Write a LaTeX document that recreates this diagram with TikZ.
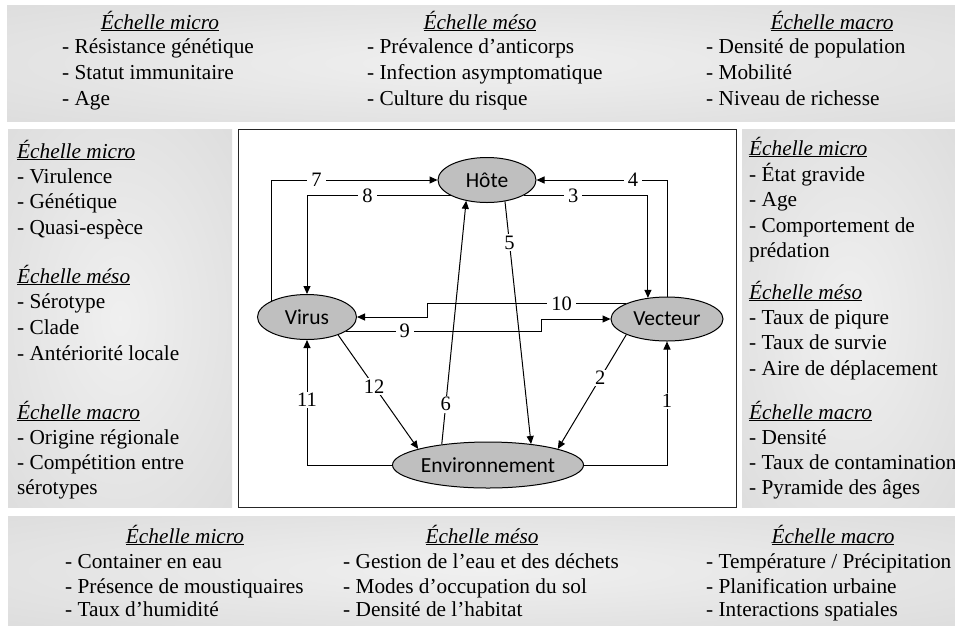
\documentclass[tikz,border=0pt]{standalone}
\usepackage{fontspec}
\setmainfont{Liberation Serif}
\newfontfamily\calib{Carlito}
\usetikzlibrary{shapes.geometric,arrows.meta,calc}
\pgfdeclareradialshading{panelshade}{\pgfpoint{0bp}{0bp}}{color(0bp)=(black!6); color(50bp)=(black!16); color(72bp)=(black!19)}
\newcommand{\txtline}[4]{\node[txt] (#1) at (#2,#3) {#4};}
\newcommand{\headw}[4]{\node[txt] (#1) at (#2,#3) {\underline{\textit{#4}}};}
\newcommand{\headc}[4]{\node[txt,anchor=base] (#1) at (#2,#3) {\underline{\textit{#4}}};}
\begin{document}
\begin{tikzpicture}[x=1pt,y=-1pt,
  txt/.style={font=\fontsize{21.3}{25}\selectfont, inner sep=0pt, anchor=base west},
  ell/.style={ellipse, draw, fill=black!25, line width=1pt, inner sep=0pt, font=\calib\fontsize{21.5}{25}\selectfont},
  lbl/.style={fill=white, inner xsep=4pt, inner ysep=1.5pt, font=\fontsize{20.5}{24}\selectfont},
  arr/.style={line width=1pt, -{Triangle[length=8pt,width=7pt]}},
  panel/.style={shading=panelshade}]
\useasboundingbox (0,0) rectangle (955,625);
\fill[white] (0,0) rectangle (955,625);
% panels
\shade[panel] (7,5) rectangle (955,121);
\shade[panel] (8,129) rectangle (232,507);
\shade[panel] (742,129) rectangle (955,507);
\shade[panel] (8,516) rectangle (955,625);
\draw[black!85, line width=1pt, fill=white] (238,129) rectangle (736,507);
% top panel
\headc{t1h}{160}{29}{Échelle micro}
\txtline{t1a}{62}{53}{- Résistance génétique}
\txtline{t1b}{62}{79}{- Statut immunitaire}
\txtline{t1c}{62}{105}{- Age}
\headc{t2h}{480}{29}{Échelle méso}
\txtline{t2a}{367}{53}{- Prévalence d’anticorps}
\txtline{t2b}{367}{79}{- Infection asymptomatique}
\txtline{t2c}{367}{105}{- Culture du risque}
\headc{t3h}{832}{29}{Échelle macro}
\txtline{t3a}{706}{53}{- Densité de population}
\txtline{t3b}{706}{79}{- Mobilité}
\txtline{t3c}{706}{105}{- Niveau de richesse}
% left panel
\headw{l1h}{17}{158}{Échelle micro}
\txtline{l1a}{17}{183}{- Virulence}
\txtline{l1b}{17}{208}{- Génétique}
\txtline{l1c}{17}{234}{- Quasi-espèce}
\headw{l2h}{17}{283}{Échelle méso}
\txtline{l2a}{17}{308}{- Sérotype}
\txtline{l2b}{17}{334}{- Clade}
\txtline{l2c}{17}{360}{- Antériorité locale}
\headw{l3h}{17}{419}{Échelle macro}
\txtline{l3a}{17}{444}{- Origine régionale}
\txtline{l3b}{17}{469}{- Compétition entre}
\txtline{l3c}{17}{494}{sérotypes}
% right panel
\headw{r1h}{749}{155}{Échelle micro}
\txtline{r1a}{749}{181}{- État gravide}
\txtline{r1b}{749}{206}{- Age}
\txtline{r1c}{749}{232}{- Comportement de}
\txtline{r1d}{749}{257}{prédation}
\headw{r2h}{749}{299}{Échelle méso}
\txtline{r2a}{749}{324}{- Taux de piqure}
\txtline{r2b}{749}{349}{- Taux de survie}
\txtline{r2c}{749}{375}{- Aire de déplacement}
\headw{r3h}{749}{419}{Échelle macro}
\txtline{r3a}{749}{444}{- Densité}
\txtline{r3b}{749}{469}{- Taux de contamination}
\txtline{r3c}{749}{494}{- Pyramide des âges}
% bottom panel
\headc{b1h}{185}{543}{Échelle micro}
\txtline{b1a}{65}{568}{- Container en eau}
\txtline{b1b}{65}{593}{- Présence de moustiquaires}
\txtline{b1c}{65}{616}{- Taux d’humidité}
\headc{b2h}{482}{543}{Échelle méso}
\txtline{b2a}{343}{568}{- Gestion de l’eau et des déchets}
\txtline{b2b}{343}{593}{- Modes d’occupation du sol}
\txtline{b2c}{343}{616}{- Densité de l’habitat}
\headc{b3h}{833}{543}{Échelle macro}
\txtline{b3a}{706}{568}{- Température / Précipitation}
\txtline{b3b}{706}{593}{- Planification urbaine}
\txtline{b3c}{706}{616}{- Interactions spatiales}
% diagram nodes
\node[ell, minimum width=98pt, minimum height=45pt] (hote) at (487,180) {Hôte};
\node[ell, minimum width=99pt, minimum height=45pt] (virus) at (307,317) {Virus};
\node[ell, minimum width=112pt, minimum height=44pt] (vecteur) at (667,319) {Vecteur};
\node[ell, minimum width=191pt, minimum height=46pt] (env) at (488,465) {Environnement};
\coordinate (k10) at (427,310);
\coordinate (k9) at (541,325);
% connectors
\draw[arr] (virus.155.8) |- node[lbl,pos=0.635] (n7) {7} (hote.west);
\draw[arr] (hote.204) -| node[lbl,pos=0.29] (n8) {8} (virus.north);
\draw[arr] (hote.337) -| node[lbl,pos=0.2] (n3) {3} (vecteur.132.5);
\draw[arr] (vecteur.north) |- node[lbl,pos=0.63] (n4) {4} (hote.east);
\draw[arr] (hote.310.7) -- node[lbl,pos=0.17] (n5) {5} (env.26.2);
\draw[arr] (env.156.9) -- node[lbl,pos=0.165] (n6) {6} (hote.225.7);
\draw[arr] (vecteur.159) -- node[lbl,pos=0.325] (n10) {10} (vecteur.159 -| k10) |- (virus.east);
\draw[arr] (virus.340) -- node[lbl,pos=0.3] (n9) {9} (virus.340 -| k9) |- (vecteur.west);
\draw[arr] (virus.330) -- node[lbl,pos=0.45] (n12) {12} (env.167.4);
\draw[arr] (vecteur.201) -- node[lbl,pos=0.38] (n2) {2} (env.13.3);
\draw[arr] (env.west) -| node[lbl,pos=0.76] (n11) {11} (virus.south);
\draw[arr] (env.east) -| node[lbl,pos=0.76] (n1) {1} (vecteur.south);
\end{tikzpicture}
\end{document}
